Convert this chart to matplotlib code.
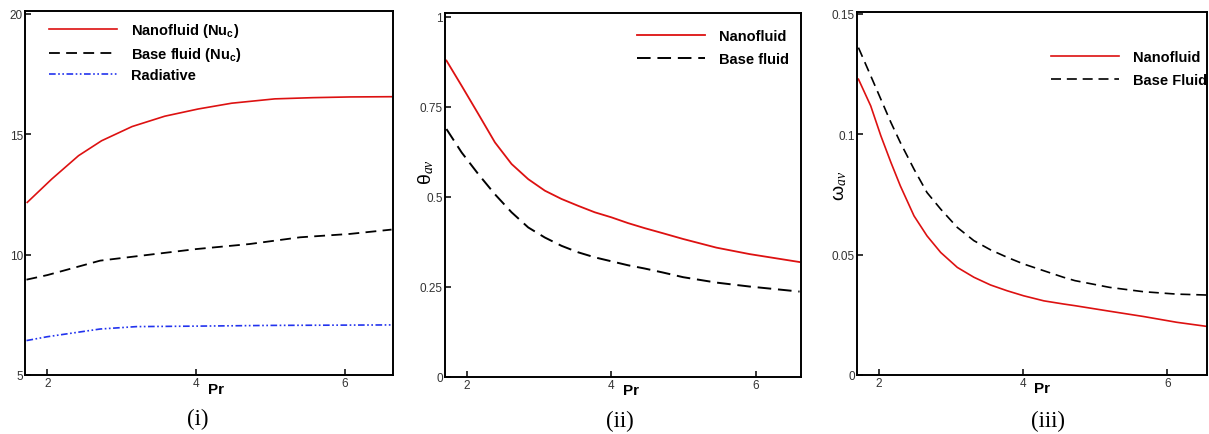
import matplotlib
matplotlib.use("Agg")
import matplotlib.pyplot as plt

plt.rcParams['font.family'] = ['Liberation Sans', 'DejaVu Sans']
plt.rcParams['mathtext.fontset'] = 'custom'
plt.rcParams['mathtext.rm'] = 'Liberation Sans'
plt.rcParams['mathtext.it'] = 'Liberation Serif:italic'
plt.rcParams['mathtext.bf'] = 'Liberation Sans:bold'

# ---------------- data ----------------
# Panel (i): Nusselt numbers vs Pr
pr_i_nano = [1.73, 2.06, 2.42, 2.73, 3.14, 3.58, 4.03, 4.48, 5.06, 5.57, 6.07, 6.63]
nu_nano = [12.17, 13.14, 14.11, 14.73, 15.32, 15.75, 16.05, 16.29, 16.47, 16.52, 16.55, 16.56]
pr_i_base = [1.72, 2.0, 2.71, 4.0, 4.72, 5.4, 6.07, 6.63]
nu_base = [8.96, 9.15, 9.75, 10.23, 10.44, 10.72, 10.86, 11.04]
pr_i_rad = [1.72, 2.0, 2.71, 3.2, 4.0, 5.0, 6.63]
nu_rad = [6.43, 6.59, 6.91, 7.01, 7.03, 7.06, 7.08]

# Panel (ii): theta_av vs Pr
pr_ii = [1.72, 1.93, 2.16, 2.39, 2.62, 2.85, 3.08, 3.31, 3.54, 3.77, 4.0, 4.23, 4.46, 4.71,
         4.99, 5.45, 5.91, 6.6]
theta_nano = [0.878, 0.808, 0.730, 0.651, 0.591, 0.549, 0.517, 0.494, 0.475, 0.457, 0.443,
              0.427, 0.413, 0.399, 0.383, 0.359, 0.341, 0.319]
theta_base = [0.688, 0.623, 0.563, 0.507, 0.457, 0.415, 0.387, 0.364, 0.346, 0.332, 0.321,
              0.310, 0.301, 0.290, 0.277, 0.262, 0.251, 0.237]

# Panel (iii): omega_av vs Pr
pr_iii = [1.72, 1.89, 2.03, 2.17, 2.30, 2.49, 2.67, 2.86, 3.09, 3.32, 3.55, 3.78, 4.01, 4.29,
          4.56, 4.72, 5.2, 5.67, 6.13, 6.57]
omega_nano = [0.1229, 0.1118, 0.0994, 0.0883, 0.0786, 0.0661, 0.0578, 0.0509, 0.0447, 0.0406,
              0.0374, 0.0350, 0.0329, 0.0308, 0.0295, 0.0288, 0.0265, 0.0243, 0.0219, 0.0201]
omega_base = [0.136, 0.1243, 0.1146, 0.1049, 0.0966, 0.0855, 0.0758, 0.0689, 0.0613, 0.0558,
              0.0520, 0.0489, 0.0461, 0.0433, 0.0406, 0.0392, 0.0364, 0.0346, 0.0336, 0.0332]

x_ticks = [2, 4, 6]
y_ticks_i = [5, 10, 15, 20]
y_ticks_ii = [0, 0.25, 0.5, 0.75, 1]
y_ticks_iii = [0, 0.05, 0.1, 0.15]
y_ticklabels_ii = ['0', '0.25', '0.5', '0.75', '1']
y_ticklabels_iii = ['0', '0.05', '0.1', '0.15']

W, H = 1209, 435
fig = plt.figure(figsize=(W / 100, H / 100), dpi=100)


def add_axes(l, r, t, b):
    return fig.add_axes([l / W, 1 - b / H, (r - l) / W, (b - t) / H])


def style(ax):
    for s in ax.spines.values():
        s.set_linewidth(1.4)
    ax.tick_params(direction='in', length=4.5, width=1.1, labelsize=8.5,
                   labelcolor='#333333', pad=1.5, top=False, right=False)
    ax.set_xticks(x_ticks)
    ax.set_xticklabels([str(t) for t in x_ticks])


RED = '#dd1111'
LEG = dict(loc='upper left', frameon=False, borderpad=0, borderaxespad=0,
           handlelength=4.7, handletextpad=0.9)
FS_LEG = 10.5

# ---- panel (i)
ax1 = add_axes(25, 393, 12, 376)
ax1.plot(pr_i_nano, nu_nano, color=RED, lw=1.2, label=r'Nanofluid (Nu$_{\mathbf{c}}$)')
ax1.plot(pr_i_base, nu_base, color='black', lw=1.3, dashes=(6, 3.5), label=r'Base fluid (Nu$_{\mathbf{c}}$)')
ax1.plot(pr_i_rad, nu_rad, color='#2233ee', lw=1.2, dashes=(4, 1.5, 1, 1.5, 1, 1.5), label='Radiative')
ax1.set_xlim(1.7, 6.65)
ax1.set_ylim(5, 20.12)
style(ax1)
ax1.set_yticks(y_ticks_i)
ax1.set_yticklabels([str(t) for t in y_ticks_i])
ax1.legend(bbox_to_anchor=(0.065, 0.973), labelspacing=0.4,
           prop={'weight': 'bold', 'size': FS_LEG}, **LEG)
ax1.text(0.519, -0.038, 'Pr', transform=ax1.transAxes, ha='center', va='center',
         fontsize=11, fontweight='bold')

# ---- panel (ii)
ax2 = add_axes(445, 801, 14, 378)
ax2.plot(pr_ii, theta_nano, color=RED, lw=1.3, label='Nanofluid')
ax2.plot(pr_ii, theta_base, color='black', lw=1.4, dashes=(7, 3.5), label='Base fluid')
ax2.set_xlim(1.7, 6.62)
ax2.set_ylim(0, 1.01)
style(ax2)
ax2.set_yticks(y_ticks_ii)
ax2.set_yticklabels(y_ticklabels_ii)
ax2.legend(bbox_to_anchor=(0.539, 0.957), labelspacing=0.62,
           prop={'weight': 'bold', 'size': FS_LEG}, **LEG)
ax2.text(0.522, -0.036, 'Pr', transform=ax2.transAxes, ha='center', va='center',
         fontsize=11, fontweight='bold')
ax2.text(-0.053, 0.565, r'$\mathrm{θ}_{av}$', transform=ax2.transAxes, ha='center',
         va='center', rotation=90, fontsize=14)

# ---- panel (iii)
ax3 = add_axes(857, 1207, 13, 376)
ax3.plot(pr_iii, omega_nano, color=RED, lw=1.2, label='Nanofluid')
ax3.plot(pr_iii, omega_base, color='black', lw=1.2, dashes=(6, 3.5), label='Base Fluid')
ax3.set_xlim(1.7, 6.55)
ax3.set_ylim(0, 0.1508)
style(ax3)
ax3.set_yticks(y_ticks_iii)
ax3.set_yticklabels(y_ticklabels_iii)
ax3.legend(bbox_to_anchor=(0.554, 0.896), labelspacing=0.62,
           prop={'weight': 'bold', 'size': FS_LEG}, **LEG)
ax3.text(0.529, -0.036, 'Pr', transform=ax3.transAxes, ha='center', va='center',
         fontsize=11, fontweight='bold')
ax3.text(-0.049, 0.523, r'$\mathrm{ω}_{av}$', transform=ax3.transAxes, ha='center',
         va='center', rotation=90, fontsize=14)

# panel captions
for (cx, cy, txt) in [(198, 419, '(i)'), (620, 421, '(ii)'), (1048, 421, '(iii)')]:
    fig.text(cx / W, 1 - cy / H, txt, ha='center', va='center', fontsize=16.5,
             family='Liberation Serif')

fig.savefig('out.png', dpi=100)
